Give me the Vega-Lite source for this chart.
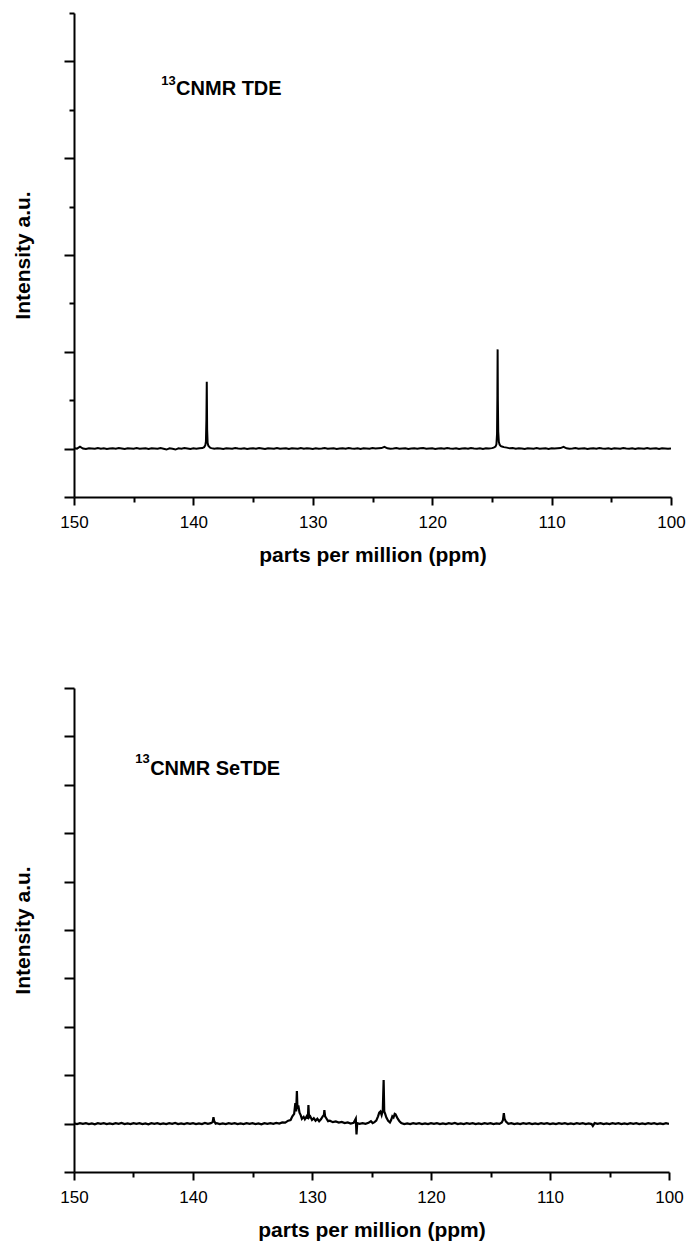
{
  "$schema": "https://vega.github.io/schema/vega-lite/v6.json",
  "background": "white",
  "padding": {"left": 12, "top": 12, "right": 10, "bottom": 5},
  "spacing": 122,
  "config": {
    "font": "Liberation Sans",
    "view": {"stroke": null},
    "axis": {
      "grid": false,
      "domainColor": "black",
      "domainWidth": 2,
      "tickColor": "black",
      "tickWidth": 2,
      "labelColor": "black",
      "labelFont": "Liberation Sans",
      "labelFontSize": 17,
      "titleColor": "black",
      "titleFont": "Liberation Sans",
      "titleFontSize": 21,
      "titleFontWeight": "bold",
      "labelFlush": false,
      "labelOverlap": false
    },
    "text": {"font": "Liberation Sans", "color": "black"}
  },
  "datasets": {
    "tde": [
      {"ppm": 150, "i": 0.01}, {"ppm": 149.75, "i": 0.0}, {"ppm": 149.5, "i": 0.04}, {"ppm": 149.25, "i": 0.0},
      {"ppm": 149, "i": -0.01}, {"ppm": 148.75, "i": 0.005}, {"ppm": 148.5, "i": 0.0}, {"ppm": 148.25, "i": -0.005},
      {"ppm": 148, "i": 0.01}, {"ppm": 147.75, "i": -0.005}, {"ppm": 147.5, "i": 0.005}, {"ppm": 147.25, "i": -0.01},
      {"ppm": 147, "i": 0.0}, {"ppm": 146.75, "i": 0.005}, {"ppm": 146.5, "i": -0.005}, {"ppm": 146.25, "i": 0.01},
      {"ppm": 146, "i": 0.0}, {"ppm": 145.75, "i": -0.01}, {"ppm": 145.5, "i": 0.005}, {"ppm": 145.25, "i": 0.0},
      {"ppm": 145, "i": -0.005}, {"ppm": 144.75, "i": 0.01}, {"ppm": 144.5, "i": -0.005}, {"ppm": 144.25, "i": 0.0},
      {"ppm": 144, "i": 0.005}, {"ppm": 143.75, "i": -0.01}, {"ppm": 143.5, "i": 0.005}, {"ppm": 143.25, "i": 0.0},
      {"ppm": 143, "i": -0.005}, {"ppm": 142.75, "i": 0.01}, {"ppm": 142.5, "i": -0.005}, {"ppm": 142.25, "i": -0.02},
      {"ppm": 142, "i": 0.005}, {"ppm": 141.75, "i": -0.005}, {"ppm": 141.5, "i": -0.02}, {"ppm": 141.25, "i": 0.005},
      {"ppm": 141, "i": -0.005}, {"ppm": 140.75, "i": 0.01}, {"ppm": 140.5, "i": 0.0}, {"ppm": 140.25, "i": -0.01},
      {"ppm": 140, "i": 0.005}, {"ppm": 139.75, "i": -0.005}, {"ppm": 139.5, "i": 0.005}, {"ppm": 139.25, "i": 0.01},
      {"ppm": 139.1, "i": 0.03}, {"ppm": 139.0, "i": 0.07}, {"ppm": 138.95, "i": 0.15}, {"ppm": 138.91, "i": 0.6},
      {"ppm": 138.88, "i": 1.38}, {"ppm": 138.85, "i": 0.4}, {"ppm": 138.81, "i": 0.12}, {"ppm": 138.75, "i": 0.06},
      {"ppm": 138.6, "i": 0.02}, {"ppm": 138.5, "i": 0.01}, {"ppm": 138.25, "i": -0.005}, {"ppm": 138, "i": 0.005},
      {"ppm": 137.75, "i": 0.0}, {"ppm": 137.5, "i": -0.01}, {"ppm": 137.25, "i": 0.005}, {"ppm": 137, "i": 0.0},
      {"ppm": 136.75, "i": -0.005}, {"ppm": 136.5, "i": 0.01}, {"ppm": 136.25, "i": 0.0}, {"ppm": 136, "i": -0.005},
      {"ppm": 135.75, "i": 0.005}, {"ppm": 135.5, "i": -0.01}, {"ppm": 135.25, "i": 0.0}, {"ppm": 135, "i": 0.005},
      {"ppm": 134.75, "i": -0.005}, {"ppm": 134.5, "i": 0.01}, {"ppm": 134.25, "i": 0.0}, {"ppm": 134, "i": -0.01},
      {"ppm": 133.75, "i": 0.005}, {"ppm": 133.5, "i": 0.0}, {"ppm": 133.25, "i": -0.005}, {"ppm": 133, "i": 0.01},
      {"ppm": 132.75, "i": -0.005}, {"ppm": 132.5, "i": 0.0}, {"ppm": 132.25, "i": 0.005}, {"ppm": 132, "i": -0.01},
      {"ppm": 131.75, "i": 0.005}, {"ppm": 131.5, "i": 0.0}, {"ppm": 131.25, "i": -0.005}, {"ppm": 131, "i": 0.01},
      {"ppm": 130.75, "i": -0.005}, {"ppm": 130.5, "i": 0.005}, {"ppm": 130.25, "i": 0.0}, {"ppm": 130, "i": -0.01},
      {"ppm": 129.75, "i": 0.005}, {"ppm": 129.5, "i": -0.005}, {"ppm": 129.25, "i": 0.0}, {"ppm": 129, "i": 0.01},
      {"ppm": 128.75, "i": -0.005}, {"ppm": 128.5, "i": 0.0}, {"ppm": 128.25, "i": 0.005}, {"ppm": 128, "i": -0.01},
      {"ppm": 127.75, "i": 0.0}, {"ppm": 127.5, "i": 0.005}, {"ppm": 127.25, "i": -0.005}, {"ppm": 127, "i": 0.01},
      {"ppm": 126.75, "i": 0.0}, {"ppm": 126.5, "i": -0.005}, {"ppm": 126.25, "i": 0.005}, {"ppm": 126, "i": -0.01},
      {"ppm": 125.75, "i": 0.005}, {"ppm": 125.5, "i": 0.0}, {"ppm": 125.25, "i": -0.005}, {"ppm": 125, "i": 0.01},
      {"ppm": 124.75, "i": 0.0}, {"ppm": 124.5, "i": 0.005}, {"ppm": 124.25, "i": 0.01}, {"ppm": 124, "i": 0.035},
      {"ppm": 123.75, "i": 0.005}, {"ppm": 123.5, "i": -0.005}, {"ppm": 123.25, "i": 0.0}, {"ppm": 123, "i": 0.01},
      {"ppm": 122.75, "i": -0.005}, {"ppm": 122.5, "i": 0.0}, {"ppm": 122.25, "i": 0.005}, {"ppm": 122, "i": -0.01},
      {"ppm": 121.75, "i": 0.0}, {"ppm": 121.5, "i": 0.005}, {"ppm": 121.25, "i": -0.005}, {"ppm": 121, "i": 0.005},
      {"ppm": 120.75, "i": 0.01}, {"ppm": 120.5, "i": -0.005}, {"ppm": 120.25, "i": 0.0}, {"ppm": 120, "i": 0.005},
      {"ppm": 119.75, "i": -0.01}, {"ppm": 119.5, "i": 0.0}, {"ppm": 119.25, "i": 0.005}, {"ppm": 119, "i": -0.005},
      {"ppm": 118.75, "i": 0.01}, {"ppm": 118.5, "i": 0.0}, {"ppm": 118.25, "i": -0.005}, {"ppm": 118, "i": 0.005},
      {"ppm": 117.75, "i": -0.01}, {"ppm": 117.5, "i": 0.0}, {"ppm": 117.25, "i": 0.005}, {"ppm": 117, "i": -0.005},
      {"ppm": 116.75, "i": 0.01}, {"ppm": 116.5, "i": 0.0}, {"ppm": 116.25, "i": -0.005}, {"ppm": 116, "i": 0.005},
      {"ppm": 115.75, "i": -0.01}, {"ppm": 115.5, "i": 0.005}, {"ppm": 115.25, "i": 0.0}, {"ppm": 115, "i": 0.01},
      {"ppm": 114.85, "i": 0.02}, {"ppm": 114.7, "i": 0.04}, {"ppm": 114.62, "i": 0.09}, {"ppm": 114.57, "i": 0.3},
      {"ppm": 114.54, "i": 1.1}, {"ppm": 114.52, "i": 2.05}, {"ppm": 114.5, "i": 1.0}, {"ppm": 114.47, "i": 0.35},
      {"ppm": 114.42, "i": 0.14}, {"ppm": 114.35, "i": 0.08}, {"ppm": 114.25, "i": 0.05}, {"ppm": 114.1, "i": 0.04},
      {"ppm": 114, "i": 0.03}, {"ppm": 113.75, "i": 0.02}, {"ppm": 113.5, "i": 0.005}, {"ppm": 113.25, "i": 0.01},
      {"ppm": 113, "i": -0.005}, {"ppm": 112.75, "i": 0.005}, {"ppm": 112.5, "i": 0.0}, {"ppm": 112.25, "i": -0.01},
      {"ppm": 112, "i": 0.005}, {"ppm": 111.75, "i": 0.0}, {"ppm": 111.5, "i": -0.005}, {"ppm": 111.25, "i": 0.01},
      {"ppm": 111, "i": -0.005}, {"ppm": 110.75, "i": 0.0}, {"ppm": 110.5, "i": 0.005}, {"ppm": 110.25, "i": -0.01},
      {"ppm": 110, "i": 0.005}, {"ppm": 109.75, "i": 0.0}, {"ppm": 109.5, "i": 0.005}, {"ppm": 109.25, "i": 0.01},
      {"ppm": 109, "i": 0.035}, {"ppm": 108.75, "i": 0.005}, {"ppm": 108.5, "i": -0.005}, {"ppm": 108.25, "i": 0.0},
      {"ppm": 108, "i": 0.01}, {"ppm": 107.75, "i": -0.005}, {"ppm": 107.5, "i": 0.0}, {"ppm": 107.25, "i": 0.005},
      {"ppm": 107, "i": -0.01}, {"ppm": 106.75, "i": 0.0}, {"ppm": 106.5, "i": 0.005}, {"ppm": 106.25, "i": -0.005},
      {"ppm": 106, "i": 0.01}, {"ppm": 105.75, "i": 0.0}, {"ppm": 105.5, "i": -0.005}, {"ppm": 105.25, "i": 0.005},
      {"ppm": 105, "i": -0.01}, {"ppm": 104.75, "i": 0.005}, {"ppm": 104.5, "i": 0.0}, {"ppm": 104.25, "i": -0.005},
      {"ppm": 104, "i": 0.01}, {"ppm": 103.75, "i": 0.0}, {"ppm": 103.5, "i": -0.005}, {"ppm": 103.25, "i": 0.005},
      {"ppm": 103, "i": -0.01}, {"ppm": 102.75, "i": 0.005}, {"ppm": 102.5, "i": 0.0}, {"ppm": 102.25, "i": -0.005},
      {"ppm": 102, "i": 0.01}, {"ppm": 101.75, "i": -0.005}, {"ppm": 101.5, "i": 0.0}, {"ppm": 101.25, "i": 0.005},
      {"ppm": 101, "i": -0.01}, {"ppm": 100.75, "i": 0.005}, {"ppm": 100.5, "i": 0.0}, {"ppm": 100.25, "i": -0.005},
      {"ppm": 100, "i": 0.0}
    ],
    "setde": [
      {"ppm": 150, "i": 0.01}, {"ppm": 149.75, "i": -0.02}, {"ppm": 149.5, "i": 0.02}, {"ppm": 149.25, "i": -0.01},
      {"ppm": 149, "i": 0.02}, {"ppm": 148.75, "i": -0.02}, {"ppm": 148.5, "i": 0.01}, {"ppm": 148.25, "i": -0.03},
      {"ppm": 148, "i": 0.02}, {"ppm": 147.75, "i": -0.01}, {"ppm": 147.5, "i": 0.02}, {"ppm": 147.25, "i": -0.02},
      {"ppm": 147, "i": 0.01}, {"ppm": 146.75, "i": -0.02}, {"ppm": 146.5, "i": 0.02}, {"ppm": 146.25, "i": -0.01},
      {"ppm": 146, "i": 0.03}, {"ppm": 145.75, "i": -0.02}, {"ppm": 145.5, "i": 0.01}, {"ppm": 145.25, "i": -0.02},
      {"ppm": 145, "i": 0.02}, {"ppm": 144.75, "i": -0.01}, {"ppm": 144.5, "i": 0.02}, {"ppm": 144.25, "i": -0.02},
      {"ppm": 144, "i": 0.01}, {"ppm": 143.75, "i": -0.03}, {"ppm": 143.5, "i": 0.02}, {"ppm": 143.25, "i": -0.01},
      {"ppm": 143, "i": 0.02}, {"ppm": 142.75, "i": -0.02}, {"ppm": 142.5, "i": 0.01}, {"ppm": 142.25, "i": -0.02},
      {"ppm": 142, "i": 0.02}, {"ppm": 141.75, "i": -0.01}, {"ppm": 141.5, "i": 0.03}, {"ppm": 141.25, "i": -0.02},
      {"ppm": 141, "i": 0.01}, {"ppm": 140.75, "i": -0.02}, {"ppm": 140.5, "i": 0.02}, {"ppm": 140.25, "i": -0.01},
      {"ppm": 140, "i": 0.02}, {"ppm": 139.75, "i": -0.02}, {"ppm": 139.5, "i": 0.01}, {"ppm": 139.25, "i": -0.02},
      {"ppm": 139, "i": 0.03}, {"ppm": 138.75, "i": -0.01}, {"ppm": 138.5, "i": 0.02}, {"ppm": 138.35, "i": 0.06},
      {"ppm": 138.28, "i": 0.26}, {"ppm": 138.22, "i": 0.1}, {"ppm": 138.1, "i": 0.0}, {"ppm": 138, "i": 0.02},
      {"ppm": 137.75, "i": -0.02}, {"ppm": 137.5, "i": 0.01}, {"ppm": 137.25, "i": -0.02}, {"ppm": 137, "i": 0.02},
      {"ppm": 136.75, "i": -0.01}, {"ppm": 136.5, "i": 0.02}, {"ppm": 136.25, "i": -0.02}, {"ppm": 136, "i": 0.01},
      {"ppm": 135.75, "i": -0.02}, {"ppm": 135.5, "i": 0.02}, {"ppm": 135.25, "i": -0.01}, {"ppm": 135, "i": 0.02},
      {"ppm": 134.75, "i": -0.02}, {"ppm": 134.5, "i": 0.01}, {"ppm": 134.25, "i": -0.03}, {"ppm": 134, "i": 0.02},
      {"ppm": 133.75, "i": -0.01}, {"ppm": 133.5, "i": 0.02}, {"ppm": 133.25, "i": -0.01}, {"ppm": 133, "i": 0.03},
      {"ppm": 132.75, "i": 0.0}, {"ppm": 132.5, "i": 0.05}, {"ppm": 132.25, "i": 0.04}, {"ppm": 132.0, "i": 0.12},
      {"ppm": 131.8, "i": 0.15}, {"ppm": 131.65, "i": 0.3}, {"ppm": 131.5, "i": 0.4}, {"ppm": 131.4, "i": 0.85},
      {"ppm": 131.33, "i": 0.5}, {"ppm": 131.27, "i": 1.35}, {"ppm": 131.22, "i": 0.6}, {"ppm": 131.15, "i": 0.75},
      {"ppm": 131.05, "i": 0.45}, {"ppm": 130.95, "i": 0.35}, {"ppm": 130.85, "i": 0.2}, {"ppm": 130.7, "i": 0.28},
      {"ppm": 130.6, "i": 0.18}, {"ppm": 130.45, "i": 0.3}, {"ppm": 130.35, "i": 0.2}, {"ppm": 130.3, "i": 0.77},
      {"ppm": 130.25, "i": 0.25}, {"ppm": 130.15, "i": 0.3}, {"ppm": 130.0, "i": 0.15}, {"ppm": 129.85, "i": 0.22},
      {"ppm": 129.7, "i": 0.12}, {"ppm": 129.55, "i": 0.2}, {"ppm": 129.4, "i": 0.1}, {"ppm": 129.25, "i": 0.18},
      {"ppm": 129.1, "i": 0.3}, {"ppm": 129.0, "i": 0.35}, {"ppm": 128.96, "i": 0.56}, {"ppm": 128.9, "i": 0.3},
      {"ppm": 128.8, "i": 0.22}, {"ppm": 128.65, "i": 0.1}, {"ppm": 128.5, "i": 0.12}, {"ppm": 128.25, "i": 0.06},
      {"ppm": 128, "i": 0.09}, {"ppm": 127.75, "i": 0.04}, {"ppm": 127.5, "i": 0.07}, {"ppm": 127.25, "i": 0.02},
      {"ppm": 127, "i": 0.05}, {"ppm": 126.75, "i": 0.0}, {"ppm": 126.5, "i": 0.03}, {"ppm": 126.32, "i": 0.2},
      {"ppm": 126.26, "i": -0.45}, {"ppm": 126.2, "i": 0.02}, {"ppm": 126.0, "i": -0.01}, {"ppm": 125.75, "i": 0.02},
      {"ppm": 125.5, "i": -0.01}, {"ppm": 125.25, "i": 0.03}, {"ppm": 125.05, "i": 0.1}, {"ppm": 124.9, "i": 0.02},
      {"ppm": 124.75, "i": 0.06}, {"ppm": 124.6, "i": 0.12}, {"ppm": 124.45, "i": 0.3}, {"ppm": 124.35, "i": 0.45},
      {"ppm": 124.25, "i": 0.5}, {"ppm": 124.15, "i": 0.35}, {"ppm": 124.05, "i": 0.55}, {"ppm": 123.98, "i": 1.8},
      {"ppm": 123.93, "i": 0.5}, {"ppm": 123.85, "i": 0.4}, {"ppm": 123.75, "i": 0.25}, {"ppm": 123.6, "i": 0.12},
      {"ppm": 123.45, "i": 0.05}, {"ppm": 123.35, "i": 0.15}, {"ppm": 123.25, "i": 0.3}, {"ppm": 123.15, "i": 0.25},
      {"ppm": 123.05, "i": 0.4}, {"ppm": 122.98, "i": 0.38}, {"ppm": 122.9, "i": 0.3}, {"ppm": 122.8, "i": 0.2},
      {"ppm": 122.65, "i": 0.1}, {"ppm": 122.5, "i": 0.02}, {"ppm": 122.25, "i": -0.02}, {"ppm": 122, "i": 0.01},
      {"ppm": 121.75, "i": -0.02}, {"ppm": 121.5, "i": 0.02}, {"ppm": 121.25, "i": -0.01}, {"ppm": 121, "i": 0.02},
      {"ppm": 120.75, "i": -0.02}, {"ppm": 120.5, "i": 0.01}, {"ppm": 120.25, "i": -0.02}, {"ppm": 120, "i": 0.02},
      {"ppm": 119.75, "i": -0.01}, {"ppm": 119.5, "i": 0.02}, {"ppm": 119.25, "i": -0.02}, {"ppm": 119, "i": 0.01},
      {"ppm": 118.75, "i": -0.02}, {"ppm": 118.5, "i": 0.02}, {"ppm": 118.25, "i": -0.01}, {"ppm": 118, "i": 0.03},
      {"ppm": 117.75, "i": -0.02}, {"ppm": 117.5, "i": 0.01}, {"ppm": 117.25, "i": -0.02}, {"ppm": 117, "i": 0.02},
      {"ppm": 116.75, "i": -0.01}, {"ppm": 116.5, "i": 0.02}, {"ppm": 116.25, "i": -0.02}, {"ppm": 116, "i": 0.01},
      {"ppm": 115.75, "i": -0.02}, {"ppm": 115.5, "i": 0.02}, {"ppm": 115.25, "i": -0.01}, {"ppm": 115, "i": 0.02},
      {"ppm": 114.75, "i": -0.02}, {"ppm": 114.5, "i": 0.01}, {"ppm": 114.25, "i": -0.01}, {"ppm": 114.05, "i": 0.05},
      {"ppm": 113.95, "i": 0.15}, {"ppm": 113.88, "i": 0.43}, {"ppm": 113.82, "i": 0.2}, {"ppm": 113.7, "i": 0.08},
      {"ppm": 113.5, "i": -0.01}, {"ppm": 113.25, "i": 0.02}, {"ppm": 113, "i": -0.02}, {"ppm": 112.75, "i": 0.01},
      {"ppm": 112.5, "i": -0.02}, {"ppm": 112.25, "i": 0.02}, {"ppm": 112, "i": -0.01}, {"ppm": 111.75, "i": 0.02},
      {"ppm": 111.5, "i": -0.02}, {"ppm": 111.25, "i": 0.01}, {"ppm": 111, "i": -0.02}, {"ppm": 110.75, "i": 0.02},
      {"ppm": 110.5, "i": -0.01}, {"ppm": 110.25, "i": 0.02}, {"ppm": 110, "i": -0.02}, {"ppm": 109.75, "i": 0.01},
      {"ppm": 109.5, "i": -0.02}, {"ppm": 109.25, "i": 0.02}, {"ppm": 109, "i": -0.01}, {"ppm": 108.75, "i": 0.02},
      {"ppm": 108.5, "i": -0.02}, {"ppm": 108.25, "i": 0.01}, {"ppm": 108, "i": -0.02}, {"ppm": 107.75, "i": 0.02},
      {"ppm": 107.5, "i": -0.01}, {"ppm": 107.25, "i": 0.02}, {"ppm": 107, "i": -0.02}, {"ppm": 106.75, "i": 0.01},
      {"ppm": 106.5, "i": -0.02}, {"ppm": 106.4, "i": -0.1}, {"ppm": 106.25, "i": 0.02}, {"ppm": 106, "i": -0.01},
      {"ppm": 105.75, "i": 0.02}, {"ppm": 105.5, "i": -0.02}, {"ppm": 105.25, "i": 0.01}, {"ppm": 105, "i": -0.02},
      {"ppm": 104.75, "i": 0.02}, {"ppm": 104.5, "i": -0.01}, {"ppm": 104.25, "i": 0.02}, {"ppm": 104, "i": -0.02},
      {"ppm": 103.75, "i": 0.01}, {"ppm": 103.5, "i": -0.02}, {"ppm": 103.25, "i": 0.02}, {"ppm": 103, "i": -0.01},
      {"ppm": 102.75, "i": 0.02}, {"ppm": 102.5, "i": -0.02}, {"ppm": 102.25, "i": 0.01}, {"ppm": 102, "i": -0.02},
      {"ppm": 101.75, "i": 0.02}, {"ppm": 101.5, "i": -0.01}, {"ppm": 101.25, "i": 0.02}, {"ppm": 101, "i": -0.02},
      {"ppm": 100.75, "i": 0.01}, {"ppm": 100.5, "i": -0.02}, {"ppm": 100.25, "i": 0.02}, {"ppm": 100, "i": -0.01}
    ]
  },
  "vconcat": [
    {
      "width": 597,
      "height": 484,
      "layer": [
        {
          "data": {"name": "tde"},
          "mark": {"type": "line", "color": "black", "strokeWidth": 2, "clip": true},
          "encoding": {
            "x": {
              "field": "ppm", "type": "quantitative",
              "scale": {"domain": [100, 150], "reverse": true, "nice": false, "zero": false},
              "axis": {
                "values": [150, 145, 140, 135, 130, 125, 120, 115, 110, 105, 100],
                "tickSize": {"condition": {"test": "datum.value % 10 === 0", "value": 8}, "value": 5},
                "labelExpr": "datum.value % 10 === 0 ? datum.label : ''",
                "labelPadding": 9,
                "title": "parts per million (ppm)",
                "titlePadding": 14
              }
            },
            "y": {
              "field": "i", "type": "quantitative",
              "scale": {"domain": [-1, 9], "nice": false, "zero": false},
              "axis": {
                "values": [-1, 0, 1, 2, 3, 4, 5, 6, 7, 8, 9],
                "tickSize": {"condition": {"test": "datum.value % 2 === 0 || datum.value === -1", "value": 10}, "value": 5},
                "labels": false,
                "title": "Intensity a.u.",
                "titlePadding": 30
              }
            }
          }
        },
        {
          "data": {"values": [{"ppm": 141.45, "v": 7.31, "t": "CNMR TDE"}]},
          "mark": {"type": "text", "align": "left", "baseline": "alphabetic", "fontSize": 20, "fontWeight": "bold"},
          "encoding": {
            "x": {"field": "ppm", "type": "quantitative"},
            "y": {"field": "v", "type": "quantitative"},
            "text": {"field": "t"}
          }
        },
        {
          "data": {"values": [{"ppm": 142.7, "v": 7.52, "t": "13"}]},
          "mark": {"type": "text", "align": "left", "baseline": "alphabetic", "fontSize": 13, "fontWeight": "bold"},
          "encoding": {
            "x": {"field": "ppm", "type": "quantitative"},
            "y": {"field": "v", "type": "quantitative"},
            "text": {"field": "t"}
          }
        }
      ]
    },
    {
      "width": 595,
      "height": 484,
      "layer": [
        {
          "data": {"name": "setde"},
          "mark": {"type": "line", "color": "black", "strokeWidth": 2.2, "clip": true},
          "encoding": {
            "x": {
              "field": "ppm", "type": "quantitative",
              "scale": {"domain": [100, 150], "reverse": true, "nice": false, "zero": false},
              "axis": {
                "values": [150, 145, 140, 135, 130, 125, 120, 115, 110, 105, 100],
                "tickSize": {"condition": {"test": "datum.value % 10 === 0", "value": 8}, "value": 5},
                "labelExpr": "datum.value % 10 === 0 ? datum.label : ''",
                "labelPadding": 9,
                "title": "parts per million (ppm)",
                "titlePadding": 14
              }
            },
            "y": {
              "field": "i", "type": "quantitative",
              "scale": {"domain": [-2, 18], "nice": false, "zero": false},
              "axis": {
                "values": [-2, -1, 0, 1, 2, 3, 4, 5, 6, 7, 8, 9, 10, 11, 12, 13, 14, 15, 16, 17, 18],
                "tickSize": {"condition": {"test": "datum.value % 2 === 0", "value": 10}, "value": 5},
                "labels": false,
                "title": "Intensity a.u.",
                "titlePadding": 30
              }
            }
          }
        },
        {
          "data": {"values": [{"ppm": 143.6, "v": 14.4, "t": "CNMR SeTDE"}]},
          "mark": {"type": "text", "align": "left", "baseline": "alphabetic", "fontSize": 20, "fontWeight": "bold"},
          "encoding": {
            "x": {"field": "ppm", "type": "quantitative"},
            "y": {"field": "v", "type": "quantitative"},
            "text": {"field": "t"}
          }
        },
        {
          "data": {"values": [{"ppm": 144.85, "v": 14.9, "t": "13"}]},
          "mark": {"type": "text", "align": "left", "baseline": "alphabetic", "fontSize": 13, "fontWeight": "bold"},
          "encoding": {
            "x": {"field": "ppm", "type": "quantitative"},
            "y": {"field": "v", "type": "quantitative"},
            "text": {"field": "t"}
          }
        }
      ]
    }
  ]
}
